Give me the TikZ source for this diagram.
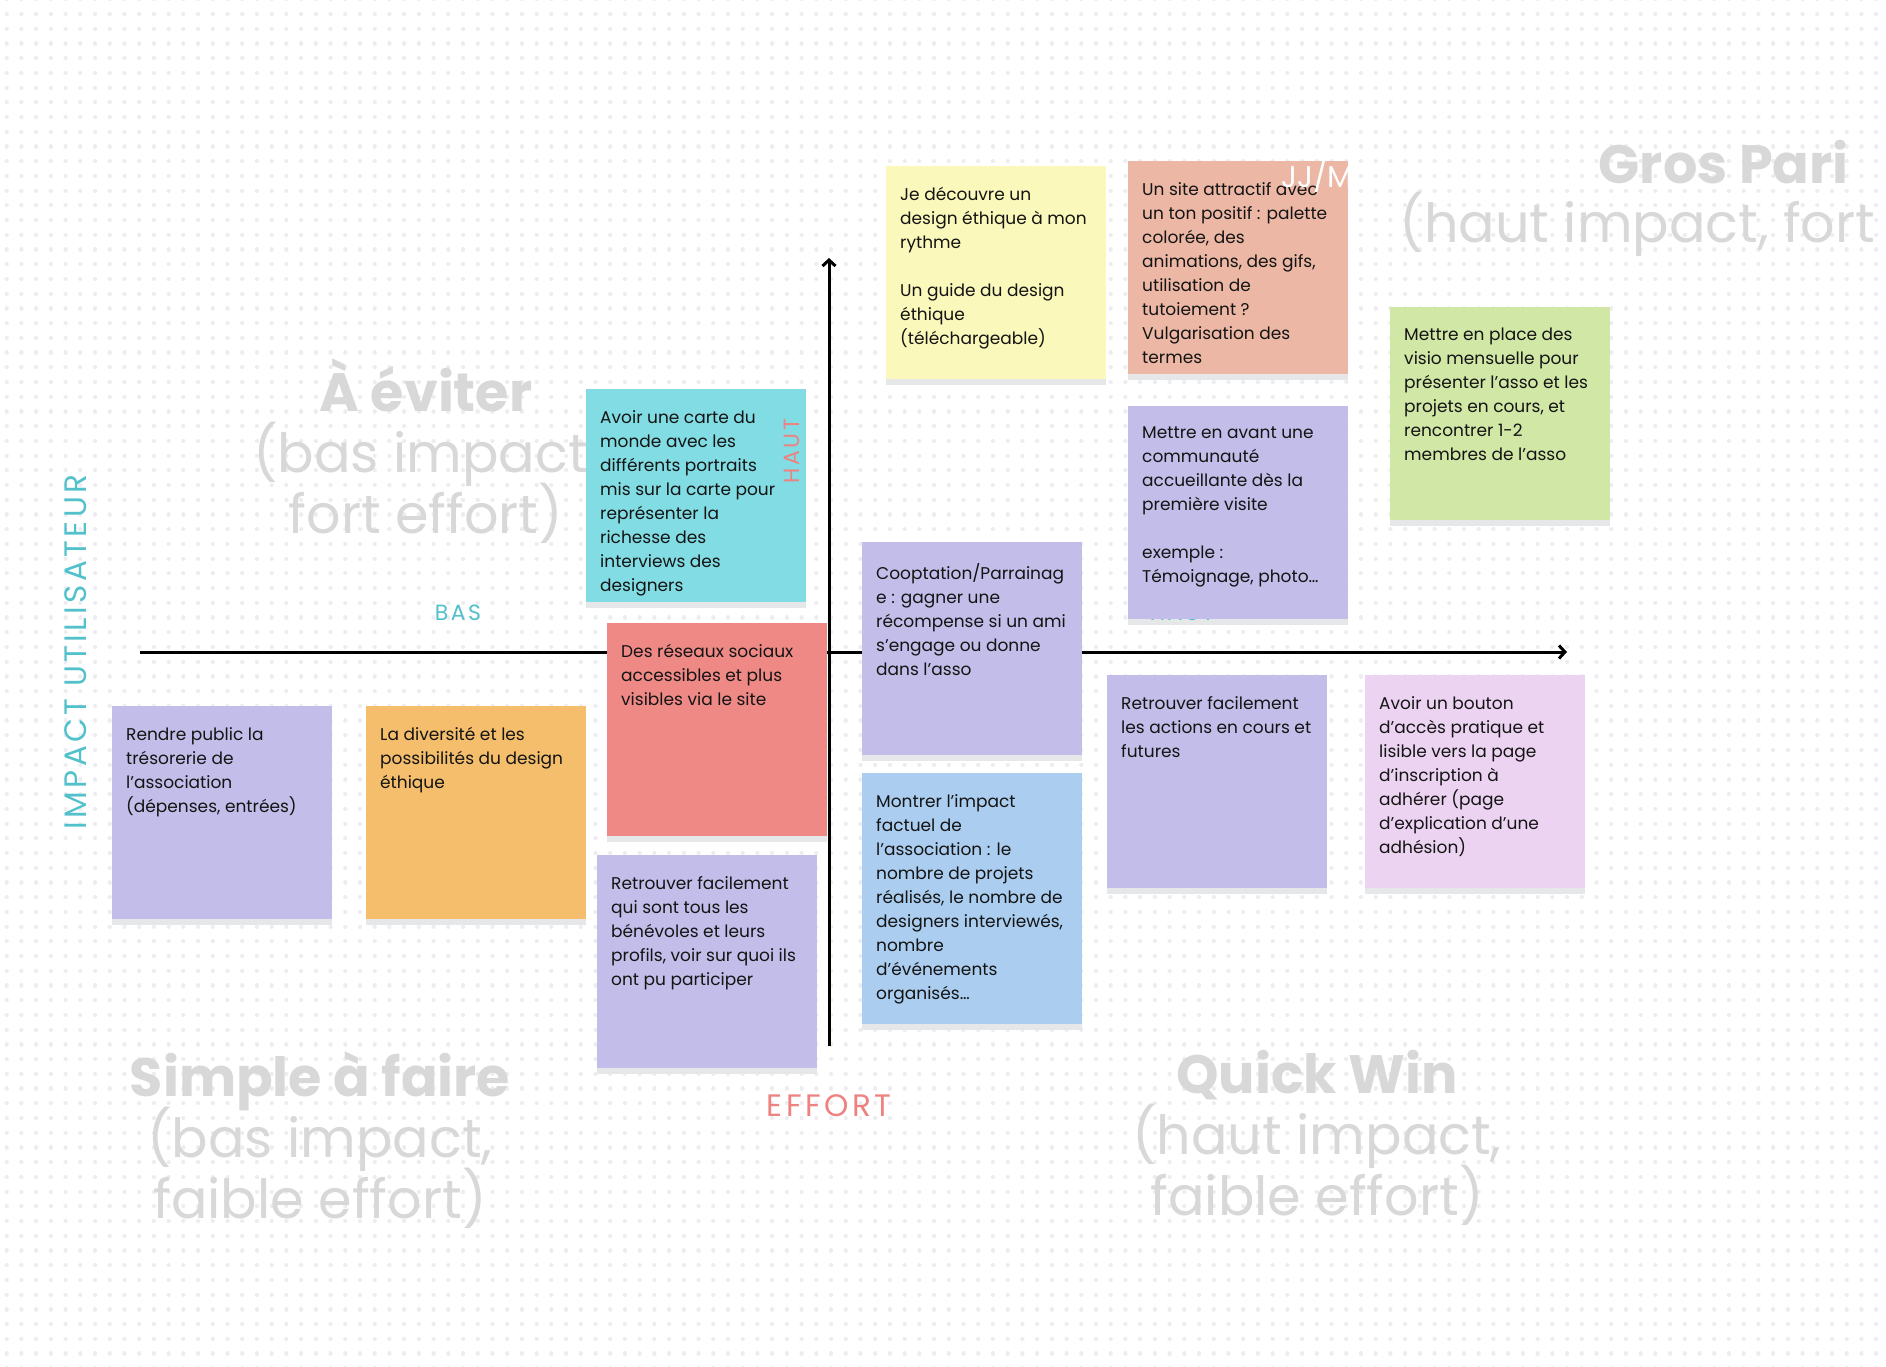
\documentclass[tikz,border=0pt]{standalone}
\usepackage{fontspec}
\setmainfont{Poppins}
\newfontfamily\axisfont[LetterSpace=11]{Poppins}
\usetikzlibrary{arrows.meta, positioning}

\definecolor{dotgray}{HTML}{ECECF1}
\definecolor{titlegray}{HTML}{D8D8D8}
\definecolor{impactteal}{HTML}{52C1CC}
\definecolor{effortpink}{HTML}{EE8281}
\definecolor{shadowgray}{HTML}{E6E7E9}
\definecolor{inktext}{HTML}{141414}
\definecolor{yellownote}{HTML}{FAF8BB}
\definecolor{salmonnote}{HTML}{ECB8A5}
\definecolor{greennote}{HTML}{D0E7A6}
\definecolor{lavendernote}{HTML}{C2BDE9}
\definecolor{cyannote}{HTML}{82DCE3}
\definecolor{rednote}{HTML}{EF8986}
\definecolor{orangenote}{HTML}{F4BE6C}
\definecolor{bluenote}{HTML}{AACDF0}
\definecolor{pinknote}{HTML}{EBD3F1}

\begin{document}
\begin{tikzpicture}[
    x=1pt, y=-1pt,
    dotrow/.style={
        draw=dotgray, line width=4.2pt, line cap=round,
        dash pattern=on 0.01pt off 14.71pt
    },
    note/.style={
        anchor=north west, inner sep=0pt,
        minimum width=220pt,
        minimum height=213pt,
        preaction={fill=shadowgray, transform canvas={yshift=-6pt}}
    },
    notetext/.style={
        anchor=north west, align=left,
        inner xsep=14pt, inner ysep=21pt,
        text=inktext,
        font=\fontsize{17}{24}\selectfont,
        execute at begin node=\strut
    },
    quadrant/.style={
        align=center, text=titlegray,
        font=\fontsize{54}{61}\selectfont\setlength{\lineskiplimit}{-100pt}
    },
    axislabel/.style={font=\axisfont\fontsize{31}{36}\selectfont},
    sidelabel/.style={font=\axisfont\fontsize{22}{26}\selectfont},
    axis/.style={line width=3pt, -{Straight Barb[length=6pt, width=13pt]}}
]

% ===== CANVAS =====
\useasboundingbox (0,0) rectangle (1886,1366);
\fill[white] (0,0) rectangle (1886,1366);
\foreach \r in {0,...,93}
    \draw[dotrow] (6.7,\r*14.72-0.7) -- (1886,\r*14.72-0.7);

% ===== QUADRANT TITLES =====
\node[quadrant] (eviter) at (426,451)
{\textbf{À éviter}\\(bas impact,\\fort effort)};
\node[quadrant, anchor=east] (grospari) at (1852,162) {\textbf{Gros Pari}};
\node[quadrant, anchor=west] (grosparisub) at (1396,224) {(haut impact, fort};
\node[quadrant] (simple) at (320,1140)
{\textbf{Simple à faire}\\(bas impact,\\faible effort)};
\node[quadrant] (quickwin) at (1317,1138)
{\textbf{Quick Win}\\(haut impact,\\faible effort)};

% ===== AXES =====
\coordinate (effortstart) at (140,652);
\coordinate (effortend) at (1567,652);
\coordinate (impactstart) at (829,1046);
\coordinate (impactend) at (829,258);

\draw[axis] (effortstart) -- (effortend);
\draw[axis] (impactstart) -- (impactend);

\node[axislabel, text=impactteal, rotate=90] (impactlbl) at (76,652) {IMPACT UTILISATEUR};
\node[axislabel, text=effortpink] (effortlbl) at (829,1106) {EFFORT};
\node[sidelabel, text=impactteal] (baslbl) at (458,613) {BAS};

% ===== STICKY NOTES =====
\node[note, fill=yellownote, label={[notetext]north west:{Je découvre un\\design éthique à mon\\rythme\\[24pt]Un guide du design\\éthique\\(téléchargeable)}}] (guide) at (886,166) {};

\node[note, fill=salmonnote, label={[notetext]north west:{Un site attractif avec\\un ton positif : palette\\colorée, des\\animations, des gifs,\\utilisation de\\tutoiement ?\\Vulgarisation des\\termes}}] (attractif) at (1128,161) {};

\node[note, fill=greennote, label={[notetext]north west:{Mettre en place des\\visio mensuelle pour\\présenter l’asso et les\\projets en cours, et\\rencontrer 1-2\\membres de l’asso}}] (visio) at (1390,307) {};

\node[note, fill=lavendernote, label={[notetext]north west:{Mettre en avant une\\communauté\\accueillante dès la\\première visite\\[24pt]exemple :\\Témoignage, photo…}}] (communaute) at (1128,406) {};

\node[note, fill=cyannote, label={[notetext]north west:{Avoir une carte du\\monde avec les\\différents portraits\\mis sur la carte pour\\représenter la\\richesse des\\interviews des\\designers}}] (carte) at (586,389) {};

\node[note, fill=rednote, label={[notetext]north west:{Des réseaux sociaux\\accessibles et plus\\visibles via le site}}] (reseaux) at (607,623) {};

\node[note, fill=lavendernote, label={[notetext]north west:{Rendre public la\\trésorerie de\\l’association\\(dépenses, entrées)}}] (tresorerie) at (112,706) {};

\node[note, fill=orangenote, label={[notetext]north west:{La diversité et les\\possibilités du design\\éthique}}] (diversite) at (366,706) {};

\node[note, fill=lavendernote, label={[notetext]north west:{Retrouver facilement\\qui sont tous les\\bénévoles et leurs\\profils, voir sur quoi ils\\ont pu participer}}] (benevoles) at (597,855) {};

\node[note, fill=lavendernote, label={[notetext]north west:{Cooptation/Parrainag\\e : gagner une\\récompense si un ami\\s’engage ou donne\\dans l’asso}}] (cooptation) at (862,542) {};

\node[note, fill=bluenote, minimum height=251pt, label={[notetext]north west:{Montrer l’impact\\factuel de\\l’association : le\\nombre de projets\\réalisés, le nombre de\\designers interviewés,\\nombre\\d’événements\\organisés…}}] (impactfactuel) at (862,773) {};

\node[note, fill=lavendernote, label={[notetext]north west:{Retrouver facilement\\les actions en cours et\\futures}}] (actions) at (1107,675) {};

\node[note, fill=pinknote, label={[notetext]north west:{Avoir un bouton\\d’accès pratique et\\lisible vers la page\\d’inscription à\\adhérer (page\\d’explication d’une\\adhésion)}}] (bouton) at (1365,675) {};

% ===== LABELS OVER / UNDER NOTES =====
\node[sidelabel, text=effortpink, rotate=90] (hautimpact) at (792,451) {HAUT};
\node[anchor=west, inner sep=0pt, text=white, font=\fontsize{30}{36}\selectfont] (datestamp) at (1281,176) {JJ/M};

% only the lower edge of this label shows below the note
\begin{scope}
  \clip (1100,619) rectangle (1300,640);
  \node[sidelabel, text=impactteal] (hautlbl) at (1182,613) {HAUT};
\end{scope}

\end{tikzpicture}
\end{document}
